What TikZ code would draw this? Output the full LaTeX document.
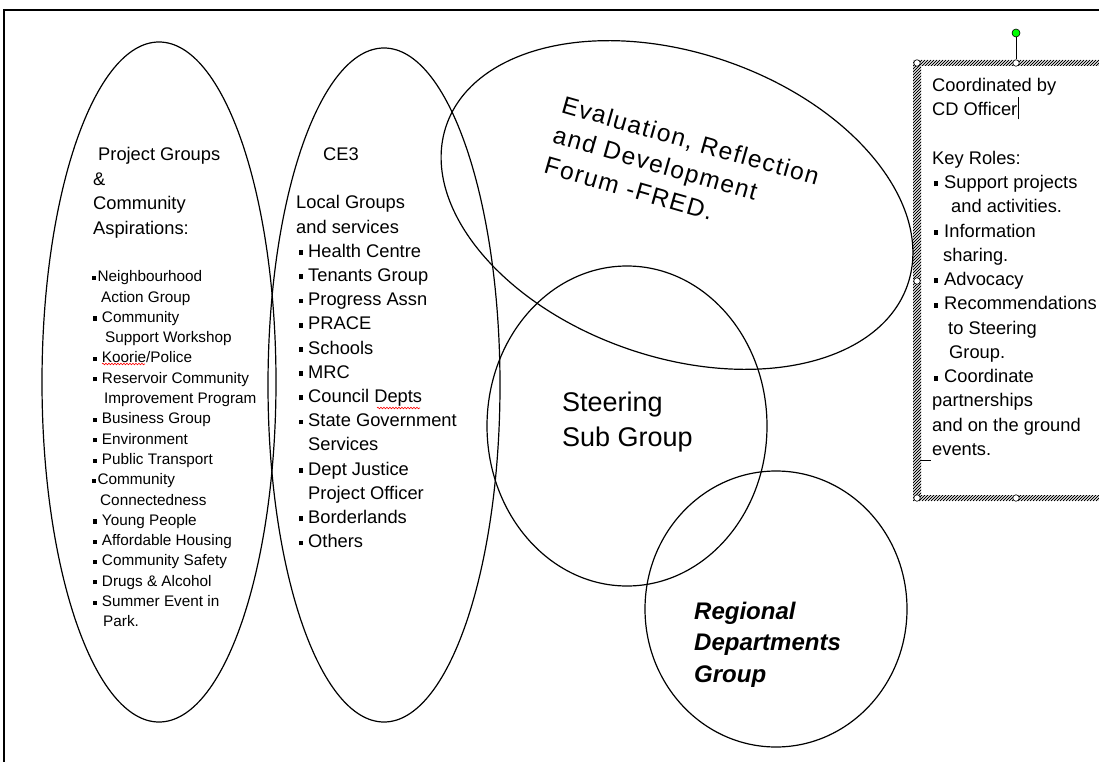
\documentclass[tikz,border=0pt]{standalone}
\usepackage{fontspec}
\setmainfont{Liberation Sans}
\usetikzlibrary{decorations.pathmorphing}

% small square bullet: #1 = indent before it, #2 = gap after it (pt)
\newcommand{\sqbul}{\rule[0.12em]{0.22em}{0.27em}}
\newcommand{\blt}[2]{\hspace*{#1pt}\sqbul\hspace*{#2pt}}

\begin{document}
\begin{tikzpicture}[x=1pt,y=-1pt,
  outline/.style={draw=black, line width=1.2pt},
  txt/.style={inner sep=0pt, anchor=north west, align=left, text=black},
  handle/.style={circle, draw=black, fill=white, line width=0.6pt, inner sep=0pt, minimum size=6.5pt},
  spell/.style={draw=red, line width=0.6pt, decorate,
    decoration={snake, amplitude=0.8pt, segment length=3pt}},
]
\useasboundingbox (0,0) rectangle (1099,762);
\fill[white] (0,0) rectangle (1099,762);

% page frame (top and left edges only)
\draw[line width=2.4pt, line join=miter] (1099,10) -- (4,10) -- (4,762);

% the overlapping group outlines
\draw[outline] (159,382) ellipse [x radius=117, y radius=340];
\draw[outline] (384,385) ellipse [x radius=116, y radius=337];
\draw[outline, rotate around={-19.1:(677,205)}] (677,205) ellipse [x radius=244, y radius=152];
\draw[outline] (627,426) ellipse [x radius=140, y radius=160];
\draw[outline] (776,609) ellipse [x radius=131, y radius=138];

% project groups
\node[txt, font={\fontsize{18.3}{24.5}\selectfont}] (lhead) at (93,147.5)
  {\hspace*{5pt}Project Groups\\\&\\Community\\Aspirations:};
\node[txt, font={\fontsize{15.3}{20.3}\selectfont}] (llist) at (92,270.5)
  {\blt{0}{2}Neighbourhood\\
   \hspace*{9pt}Action Group\\
   \blt{1}{5.4}Community\\
   \hspace*{13pt}Support Workshop\\
   \blt{1}{5.4}Koorie/Police\\
   \blt{1}{5.4}Reservoir Community\\
   \hspace*{12pt}Improvement Program\\
   \blt{1}{5.4}Business Group\\
   \blt{1}{5.4}Environment\\
   \blt{1}{5.4}Public Transport\\
   \blt{0}{2}Community\\
   \hspace*{8pt}Connectedness\\
   \blt{1}{5.4}Young People\\
   \blt{1}{5.4}Affordable Housing\\
   \blt{1}{5.4}Community Safety\\
   \blt{1}{5.4}Drugs \& Alcohol\\
   \blt{1}{5.4}Summer Event in\\
   \hspace*{11pt}Park.};
\draw[spell] (102,364) -- (145,364);

% local groups
\node[txt, font={\fontsize{18.3}{24.2}\selectfont}] (mid) at (296,147.5)
  {\hspace*{27pt}CE3\\\mbox{}\\
   Local Groups\\and services\\
   \blt{3}{5}Health Centre\\
   \blt{3}{5}Tenants Group\\
   \blt{3}{5}Progress Assn\\
   \blt{3}{5}PRACE\\
   \blt{3}{5}Schools\\
   \blt{3}{5}MRC\\
   \blt{3}{5}Council Depts\\
   \blt{3}{5}State Government\\
   \hspace*{12pt}Services\\
   \blt{3}{5}Dept Justice\\
   \hspace*{12pt}Project Officer\\
   \blt{3}{5}Borderlands\\
   \blt{3}{5}Others};
\draw[spell] (377,408) -- (420,408);

% forum
\node[txt, rotate=-16, font={\fontsize{24.5}{31.5}\selectfont\addfontfeature{LetterSpace=6}}] (fred) at (565,95)
  {Evaluation, Reflection\\and Development\\Forum -FRED.};

% steering and regional groups
\node[txt, font={\fontsize{27}{35}\selectfont}] (steer) at (562,392)
  {Steering\\Sub Group};
\node[txt, font={\fontsize{24}{31.5}\selectfont\bfseries\itshape}] (regional) at (694,601.5)
  {Regional\\Departments\\Group};

% selected text box: hatched border
\begin{scope}
  \clip (913,60) rectangle (1099,66) (913,60) rectangle (921,501) (913,495) rectangle (1099,501);
  \foreach \k in {970,973,...,1603}
    \draw[line width=0.9pt, black] (\k-501,501) -- (\k-60,60);
\end{scope}
\node[handle] (htl) at (917,63) {};
\node[handle] (htm) at (1016,63) {};
\node[handle] (hml) at (917,281) {};
\node[handle] (hbl) at (917,498) {};
\node[handle] (hbm) at (1016,498) {};
\node[circle, draw=black, fill=green, line width=0.6pt, inner sep=0pt, minimum size=8pt] (rot) at (1016,33) {};
\draw[line width=0.8pt] (rot) -- (htm);

\node[txt, font={\fontsize{18.3}{24.27}\selectfont}] (roles) at (932,78)
  {Coordinated by\\
   CD Officer\hspace{0.5pt}\rule[-0.2em]{1.2pt}{1.2em}\\\mbox{}\\
   Key Roles:\\
   \blt{2}{6}Support projects\\
   \hspace*{19pt}and activities.\\
   \blt{2}{6}Information\\
   \hspace*{11pt}sharing.\\
   \blt{2}{6}Advocacy\\
   \blt{2}{6}Recommendations\\
   \hspace*{16pt}to Steering\\
   \hspace*{17pt}Group.\\
   \blt{2}{6}Coordinate\\
   partnerships\\
   and on the ground\\
   events.};
\coordinate (mk) at (921,460);
\draw[line width=1pt] (mk) -- ++(10,0);
\end{tikzpicture}
\end{document}
